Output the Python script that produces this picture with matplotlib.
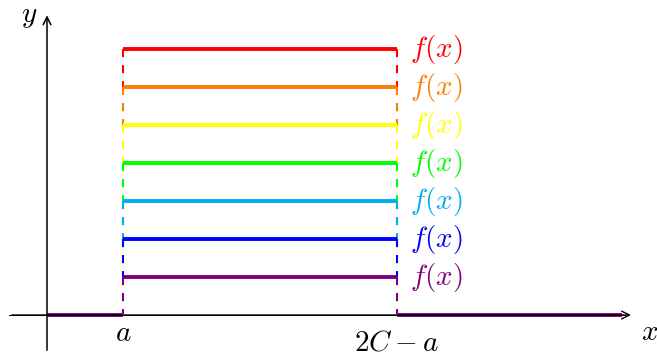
import matplotlib.pyplot as plt

plt.rcParams['mathtext.fontset'] = 'cm'

# step function levels, from top to bottom
levels = [3.5, 3.0, 2.5, 2.0, 1.5, 1.0, 0.5]
colors = ["#ff0000", "#ff8000", "#ffff00", "#00ff00", "#00aeef", "#0000ff", "#800080"]
x_a = 1.0
x_b = 4.6       # 2C - a
x_end = 7.57
labels = [r"$f(x)$"] * len(levels)

fig = plt.figure(figsize=(6.57, 3.58), dpi=100)
ax = fig.add_axes([0, 0, 1, 1])
ax.set_xlim(-47 / 76, 610 / 76)
ax.set_ylim(-43 / 76, 315 / 76)
ax.axis("off")

# zero part of the function, on the x axis
ax.plot([0, x_a], [0, 0], color="#800080", lw=2.8, solid_capstyle="butt", zorder=2)
ax.plot([x_b, x_end], [0, 0], color="#800080", lw=2.8, solid_capstyle="butt", zorder=2)

# axes with arrows
ax.annotate("", xy=(7.72, 0), xytext=(-0.5, 0),
            arrowprops=dict(arrowstyle="->", lw=1.0, color="black", mutation_scale=14), zorder=3)
ax.annotate("", xy=(0, 3.98), xytext=(0, -0.5),
            arrowprops=dict(arrowstyle="->", lw=1.1, color="black", mutation_scale=14), zorder=3)
ax.plot([-0.5, 7.6], [0, 0], color="black", lw=0.7, zorder=3)

lower = levels[1:] + [0]
for lev, low, col, lab in zip(levels, lower, colors, labels):
    # dashed sides, down to the next level
    ax.plot([x_a, x_a], [lev, low], color=col, lw=1.5, ls=(0, (3.9, 3.8)), zorder=4)
    ax.plot([x_b, x_b], [lev, low], color=col, lw=1.5, ls=(0, (3.9, 3.8)), zorder=4)
    ax.plot([x_a, x_b], [lev, lev], color=col, lw=2.8, solid_capstyle="butt", zorder=5)
    ax.text(x_b + 0.17, lev, lab, color=col, fontsize=21, ha="left", va="center")

ax.text(-0.24, 3.93, r"$y$", fontsize=21, ha="center", va="center")
ax.text(7.93, -0.22, r"$x$", fontsize=21, ha="center", va="center")
ax.text(x_a, -0.24, r"$a$", fontsize=21, ha="center", va="center")
ax.text(x_b, -0.36, r"$2C-a$", fontsize=21, ha="center", va="center")

fig.savefig("out.png", dpi=100)
